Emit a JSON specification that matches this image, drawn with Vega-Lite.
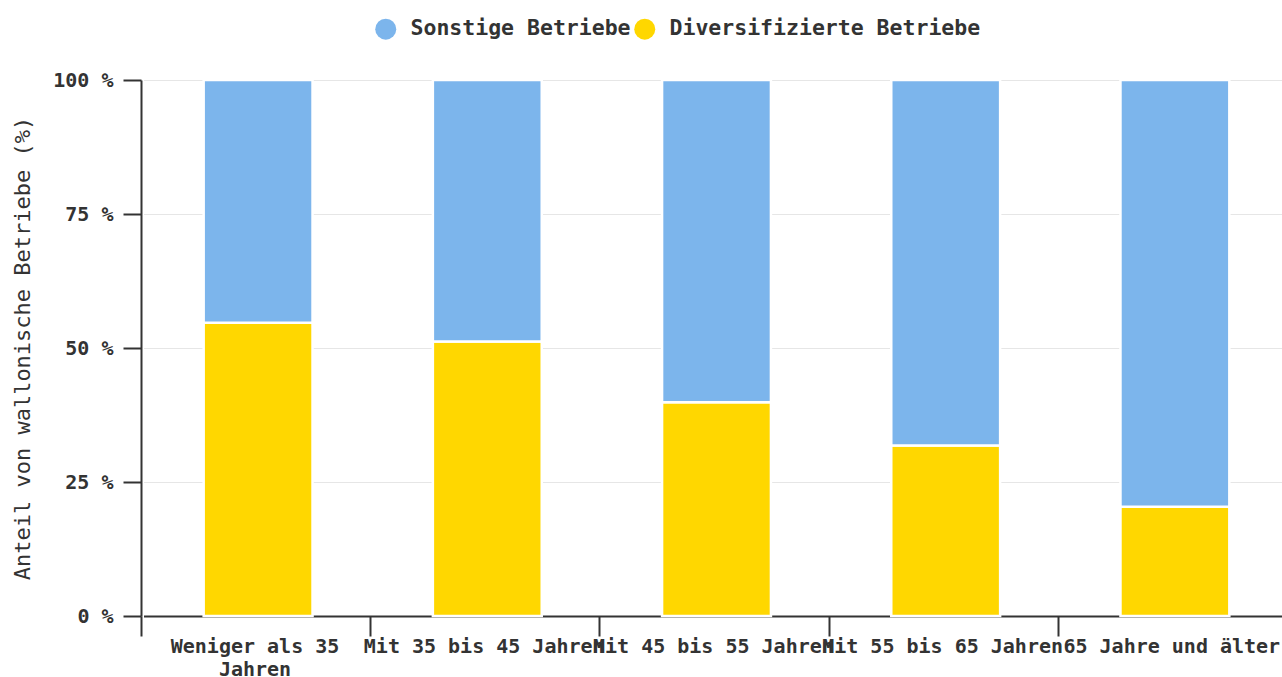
{
  "$schema": "https://vega.github.io/schema/vega-lite/v6.json",
  "width": 1141,
  "height": 536,
  "autosize": "none",
  "padding": {"left": 141, "top": 80, "right": 0, "bottom": 61},
  "background": "white",
  "data": {
    "values": [
      {"group": "Weniger als 35 Jahren", "series": "Diversifizierte Betriebe", "share": 54.7},
      {"group": "Weniger als 35 Jahren", "series": "Sonstige Betriebe", "share": 45.3},
      {"group": "Mit 35 bis 45 Jahren", "series": "Diversifizierte Betriebe", "share": 51.2},
      {"group": "Mit 35 bis 45 Jahren", "series": "Sonstige Betriebe", "share": 48.8},
      {"group": "Mit 45 bis 55 Jahren", "series": "Diversifizierte Betriebe", "share": 39.9},
      {"group": "Mit 45 bis 55 Jahren", "series": "Sonstige Betriebe", "share": 60.1},
      {"group": "Mit 55 bis 65 Jahren", "series": "Diversifizierte Betriebe", "share": 31.8},
      {"group": "Mit 55 bis 65 Jahren", "series": "Sonstige Betriebe", "share": 68.2},
      {"group": "65 Jahre und älter", "series": "Diversifizierte Betriebe", "share": 20.4},
      {"group": "65 Jahre und älter", "series": "Sonstige Betriebe", "share": 79.6}
    ]
  },
  "mark": {"type": "bar", "stroke": "white", "strokeWidth": 2.5},
  "encoding": {
    "x": {
      "field": "group",
      "type": "nominal",
      "sort": null,
      "scale": {"range": [2.5, 1148.5], "paddingInner": 0.525, "paddingOuter": 0.2625},
      "axis": {
        "title": null,
        "labelAngle": 0,
        "labelAlign": "center",
        "labelBaseline": "top",
        "labelFont": "DejaVu Sans Mono",
        "labelFontSize": 20,
        "labelFontWeight": "bold",
        "labelColor": "#333333",
        "labelLimit": 1000,
        "labelPadding": 0,
        "labelLineHeight": 23,
        "labelExpr": "datum.value == 'Weniger als 35 Jahren' ? ['Weniger als 35', 'Jahren'] : datum.value",
        "tickOffset": -117.1,
        "labelOffset": 113.5,
        "tickSize": 20,
        "tickWidth": 2,
        "tickColor": "#333333",
        "domainColor": "#333333",
        "domainWidth": 2,
        "grid": false
      }
    },
    "y": {
      "field": "share",
      "type": "quantitative",
      "stack": "zero",
      "scale": {"domain": [0, 100], "nice": false},
      "axis": {
        "title": "Anteil von wallonische Betriebe (%)",
        "titleFont": "DejaVu Sans Mono",
        "titleFontSize": 22,
        "titleFontWeight": "normal",
        "titleColor": "#333333",
        "titlePadding": 18,
        "values": [0, 25, 50, 75, 100],
        "labelExpr": "datum.value + ' %'",
        "labelFont": "DejaVu Sans Mono",
        "labelFontSize": 20,
        "labelFontWeight": "bold",
        "labelColor": "#333333",
        "labelPadding": 10,
        "tickSize": 18,
        "tickWidth": 2,
        "tickColor": "#333333",
        "domainColor": "#333333",
        "domainWidth": 2,
        "grid": true,
        "gridColor": "#e6e6e6",
        "gridWidth": 1
      }
    },
    "color": {
      "field": "series",
      "type": "nominal",
      "scale": {
        "domain": ["Sonstige Betriebe", "Diversifizierte Betriebe"],
        "range": ["#7cb5ec", "#ffd700"]
      },
      "legend": {
        "title": null,
        "orient": "none",
        "direction": "horizontal",
        "legendX": 234,
        "legendY": -62,
        "padding": 0,
        "symbolType": "circle",
        "symbolSize": 441,
        "symbolStrokeWidth": 0,
        "labelFont": "DejaVu Sans Mono",
        "labelFontSize": 21.5,
        "labelFontWeight": "bold",
        "labelColor": "#333333",
        "labelOffset": 14,
        "labelLimit": 1000,
        "columnPadding": 3
      }
    },
    "order": {"field": "series", "sort": "ascending"}
  },
  "config": {
    "view": {"stroke": null}
  }
}
